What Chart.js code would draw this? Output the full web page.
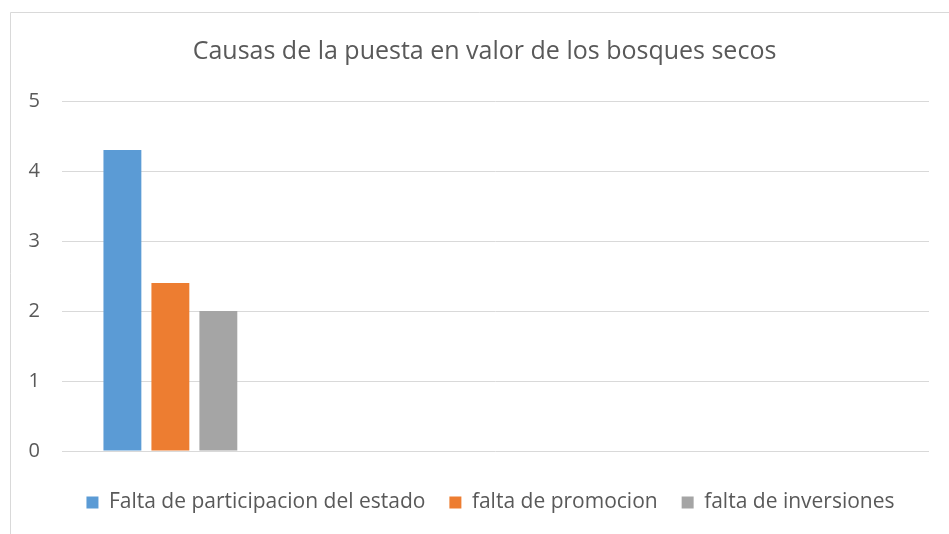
<!DOCTYPE html>
<html>
<head>
<meta charset="utf-8">
<script src="https://cdn.jsdelivr.net/npm/chart.js@4/dist/chart.umd.min.js"></script>
<style>
  html, body { margin: 0; padding: 0; background: #fff; }
  #wrap { position: relative; width: 949px; height: 534px; }
</style>
</head>
<body>
<div id="wrap"><canvas id="barchart" width="949" height="534"></canvas></div>
<script>
// categories (only the first carries data, the other three are empty slots)
var categories = ['', '', '', ''];
var estado = [4.3, null, null, null];
var promocion = [2.4, null, null, null];
var inversiones = [2.0, null, null, null];
var yTicks = [0, 1, 2, 3, 4, 5];

var textColor = '#595959';
var gridColor = '#d9d9d9';
var fontName = 'Open Sans';

// chart area frame (left and top edges only, like the original crop)
var frame = {
    id: 'frame',
    beforeDraw: function (chart) {
        var c = chart.ctx;
        c.save();
        c.fillStyle = '#fff';
        c.fillRect(0, 0, chart.width, chart.height);
        c.strokeStyle = gridColor;
        c.lineWidth = 1;
        c.beginPath();
        c.moveTo(10.5, 534);
        c.lineTo(10.5, 12.5);
        c.lineTo(949, 12.5);
        c.stroke();
        c.restore();
    }
};

// excel centres title/legend a bit right of the plot, nudge them over
var nudge = {
    id: 'nudge',
    afterLayout: function (chart) {
        var t = chart.titleBlock, l = chart.legend;
        t.left += 20; t.right += 20;
        l.left += 26; l.right += 26;
        l.top += 9; l.bottom += 9;
    }
};

var ctxbar = document.getElementById('barchart');
var barchart = new Chart(ctxbar, {
    type: 'bar',
    data: {
        labels: categories,
        datasets: [{
            label: 'Falta de participacion del estado',
            data: estado,
            backgroundColor: '#5b9bd5'
        }, {
            label: 'falta de promocion',
            data: promocion,
            backgroundColor: '#ed7d31'
        }, {
            label: 'falta de inversiones',
            data: inversiones,
            backgroundColor: '#a5a5a5'
        }]
    },
    options: {
        responsive: false,
        animation: false,
        devicePixelRatio: 1,
        categoryPercentage: 0.664,
        barPercentage: 0.79,
        layout: { padding: { left: 0, right: 20, top: 20, bottom: 20 } },
        font: { family: fontName },
        plugins: {
            title: {
                display: true,
                text: 'Causas de la puesta en valor de los bosques secos',
                color: textColor,
                font: { family: fontName, size: 25, weight: 'normal' },
                padding: { top: 17, bottom: 34 }
            },
            legend: {
                position: 'bottom',
                labels: {
                    color: textColor,
                    font: { family: fontName, size: 21 },
                    boxWidth: 12,
                    boxHeight: 12,
                    padding: 24
                }
            },
            tooltip: { enabled: false }
        },
        scales: {
            x: {
                ticks: { display: false },
                grid: { display: false },
                border: { display: false }
            },
            y: {
                min: 0,
                max: 5,
                afterFit: function (axis) { axis.width = 62; },
                afterBuildTicks: function (axis) {
                    axis.ticks = yTicks.map(function (v) { return { value: v }; });
                },
                ticks: {
                    color: textColor,
                    padding: 22,
                    font: { family: fontName, size: 20 }
                },
                grid: { color: gridColor, drawTicks: false },
                border: { display: false }
            }
        }
    },
    plugins: [frame, nudge]
});
</script>
</body>
</html>
